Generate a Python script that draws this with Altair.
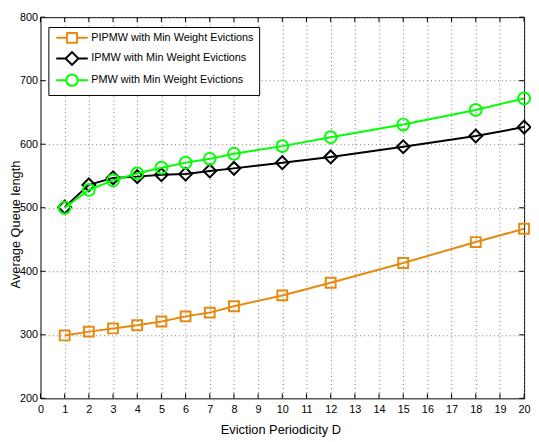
import altair as alt
import pandas as pd

# ---- data ----
periodicity = [1, 2, 3, 4, 5, 6, 7, 8, 10, 12, 15, 18, 20]
pipmw = [299, 305, 310, 315, 321, 329, 335, 345, 362, 382, 413, 446, 467]
ipmw = [501, 536, 547, 549, 552, 553, 558, 562, 571, 580, 596, 613, 627]
pmw = [500, 528, 543, 554, 563, 571, 577, 585, 597, 611, 631, 654, 672]

series_names = [
    "PIPMW with Min Weight Evictions",
    "IPMW with Min Weight Evictions",
    "PMW with Min Weight Evictions",
]
series_colors = ["#E58A12", "#000000", "#00FF00"]
marker_shapes = ["square", "diamond", "circle"]
marker_sizes = [100, 170, 144]
x_ticks = list(range(0, 21))
y_ticks = list(range(200, 801, 100))
x_range = [0, 20]
y_range = [200, 800]

PLOT_W, PLOT_H = 491, 387
TICK_PX = 5
x_tick_len = TICK_PX * (x_range[1] - x_range[0]) / PLOT_W   # in data units
y_tick_len = TICK_PX * (y_range[1] - y_range[0]) / PLOT_H

# legend symbols: line + marker drawn as one custom path (unit = sqrt(size)/2 px)
legend_paths = [
    "M-3.2,0H-1M1,0H3.2M-1,-1H1V1H-1Z",
    "M-3.2,0H-1.3M1.3,0H3.2M-1.3,0L0,-1.3L1.3,0L0,1.3Z",
    "M-3.2,0H-1.15M1.15,0H3.2M-1.15,0A1.15,1.15,0,1,1,1.15,0A1.15,1.15,0,1,1,-1.15,0Z",
]

rows = []
for name, vals in zip(series_names, [pipmw, ipmw, pmw]):
    for d, v in zip(periodicity, vals):
        rows.append({"D": d, "value": v, "series": name})
df = pd.DataFrame(rows)
xt = pd.DataFrame({"t": x_ticks})
yt = pd.DataFrame({"t": y_ticks})

FONT = "Liberation Sans"
xs = alt.Scale(domain=x_range, nice=False, zero=False)
ys = alt.Scale(domain=y_range, nice=False, zero=False)

main_x_axis = alt.Axis(
    orient="bottom", values=x_ticks, format="d", title="Eviction Periodicity D",
    grid=True, gridDash=[1, 3], gridColor="#777777", gridWidth=1,
    ticks=False, domain=False,
    labelFont=FONT, labelFontSize=11, labelColor="black", labelPadding=5.5,
    labelFlush=False, labelOverlap=False,
    titleFont=FONT, titleFontSize=13, titleFontWeight="normal", titleColor="black",
    titleX=243.5, titleY=35.5, titleBaseline="alphabetic", titleAlign="center",
)
main_y_axis = alt.Axis(
    orient="left", values=y_ticks, format="d", title="Average Queue length",
    grid=True, gridDash=[1, 3], gridColor="#777777", gridWidth=1,
    ticks=False, domain=False,
    labelFont=FONT, labelFontSize=11, labelColor="black", labelPadding=3,
    labelOverlap=False, labelFlush=False,
    titleFont=FONT, titleFontSize=13, titleFontWeight="normal", titleColor="black",
    titleAngle=270, titleX=-21.5, titleY=210, titleBaseline="alphabetic",
    titleAlign="center",
)

layers = []
for i, (name, col, shp, sz) in enumerate(zip(series_names, series_colors, marker_shapes, marker_sizes)):
    src = alt.Chart(df).transform_filter(alt.datum.series == name)
    if i == 0:
        xenc = alt.X("D:Q", scale=xs, axis=main_x_axis)
        yenc = alt.Y("value:Q", scale=ys, axis=main_y_axis)
    else:
        xenc = alt.X("D:Q", scale=xs, axis=None)
        yenc = alt.Y("value:Q", scale=ys, axis=None)
    line = src.mark_line(color=col, strokeWidth=2).encode(x=xenc, y=yenc)
    pts = src.mark_point(shape=shp, size=sz, color=col, filled=False,
                         strokeWidth=2, opacity=1).encode(
        x=alt.X("D:Q", scale=xs, axis=None),
        y=alt.Y("value:Q", scale=ys, axis=None),
    )
    layers += [line, pts]

# inward tick marks on all four sides
for yv, yv2 in [(y_range[0], y_range[0] + y_tick_len), (y_range[1], y_range[1] - y_tick_len)]:
    layers.append(
        alt.Chart(xt).mark_rule(color="black", strokeWidth=1).encode(
            x=alt.X("t:Q", scale=xs, axis=None),
            y=alt.YDatum(yv, axis=None),
            y2=alt.Y2Datum(yv2),
        )
    )
for xv, xv2 in [(x_range[0], x_range[0] + x_tick_len), (x_range[1], x_range[1] - x_tick_len)]:
    layers.append(
        alt.Chart(yt).mark_rule(color="black", strokeWidth=1).encode(
            y=alt.Y("t:Q", scale=ys, axis=None),
            x=alt.XDatum(xv, axis=None),
            x2=alt.X2Datum(xv2),
        )
    )

leg = dict(
    title=None, orient="none", legendX=8, legendY=10, direction="vertical",
    fillColor="white", strokeColor="black", padding=5,
    symbolSize=100, symbolStrokeWidth=2, symbolOpacity=1, symbolOffset=13,
    symbolFillColor="transparent",
    labelOffset=13.5, labelFont=FONT, labelFontSize=11, labelColor="black",
    labelLimit=300, rowPadding=1,
)
legend_layer = alt.Chart(df).mark_point(filled=False, strokeWidth=2, opacity=0).encode(
    x=alt.X("D:Q", scale=xs, axis=None),
    y=alt.Y("value:Q", scale=ys, axis=None),
    color=alt.Color("series:N", scale=alt.Scale(domain=series_names, range=series_colors),
                    legend=alt.Legend(**leg)),
    shape=alt.Shape("series:N", scale=alt.Scale(domain=series_names, range=legend_paths),
                    legend=alt.Legend(**leg)),
)
layers.append(legend_layer)

chart = alt.layer(*layers).resolve_axis(x="independent", y="independent").properties(
    width=PLOT_W, height=PLOT_H,
    autosize="none",
    padding={"left": 33, "top": 6, "right": 7, "bottom": 40},
).configure(background="white").configure_view(stroke="black", strokeWidth=1, fill="white")

chart.save("out.html", embed_options={"renderer": "svg", "actions": False})
